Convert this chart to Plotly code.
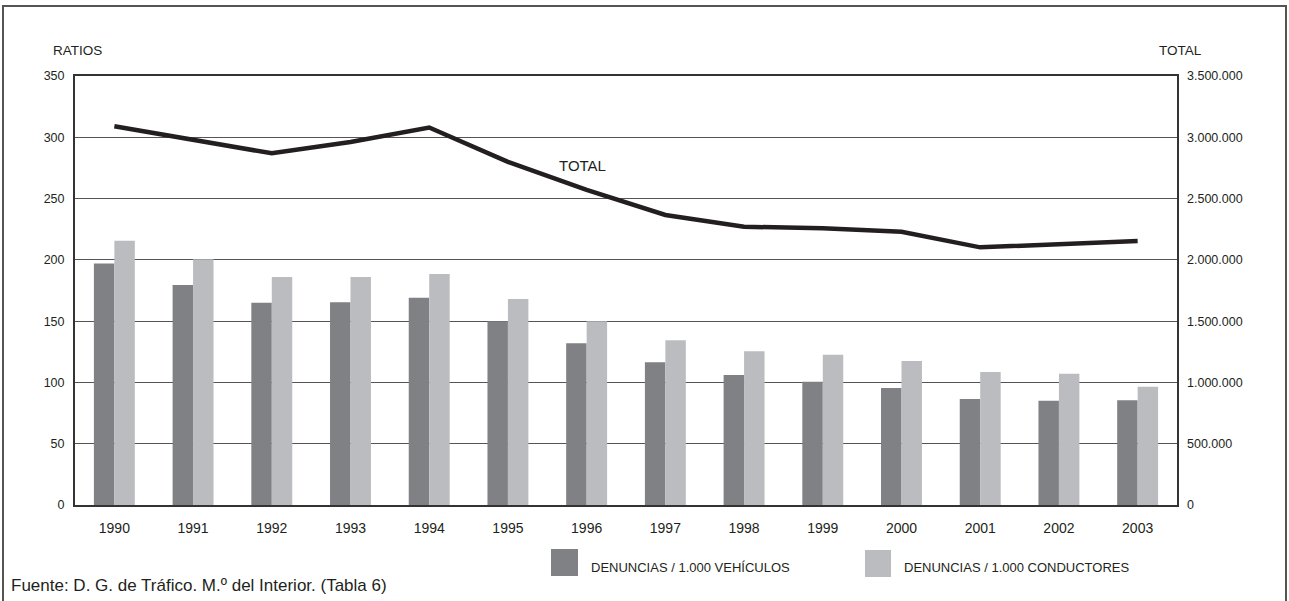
import plotly.graph_objects as go

years = [1990, 1991, 1992, 1993, 1994, 1995, 1996, 1997, 1998, 1999, 2000, 2001, 2002, 2003]
denuncias_vehiculos = [197, 179.5, 165, 165.5, 169, 150, 132, 116.5, 106, 100.5, 95.5, 86.5, 85, 85.5]
denuncias_conductores = [215.5, 200.5, 186, 186, 188.5, 168, 150, 134.5, 125.5, 122.5, 117.5, 108.5, 107, 96.5]
total = [3090000, 2983000, 2869000, 2962000, 3080000, 2800000, 2570000, 2366000, 2270000, 2257000, 2230000, 2102000, 2127000, 2154000]

left_ticks = [0, 50, 100, 150, 200, 250, 300, 350]
right_ticks = [0, 500000, 1000000, 1500000, 2000000, 2500000, 3000000, 3500000]
right_labels = ["0", "500.000", "1.000.000", "1.500.000", "2.000.000", "2.500.000", "3.000.000", "3.500.000"]

legend_labels = ["DENUNCIAS / 1.000 VEHÍCULOS", "DENUNCIAS / 1.000 CONDUCTORES"]
dark = "#808185"
light = "#BBBCC0"
ink = "#231F20"
font = "Liberation Sans, Arial, sans-serif"

fig = go.Figure()
fig.add_trace(go.Bar(x=years, y=denuncias_vehiculos, name=legend_labels[0],
                     marker=dict(color=dark, line=dict(width=0)), showlegend=False))
fig.add_trace(go.Bar(x=years, y=denuncias_conductores, name=legend_labels[1],
                     marker=dict(color=light, line=dict(width=0)), showlegend=False))
fig.add_trace(go.Scatter(x=years, y=total, yaxis="y2", mode="lines", name="TOTAL",
                         line=dict(color=ink, width=4.5), showlegend=False))

W, H = 1289, 601
L, R, T, B = 75, 112, 76, 96
pw, ph = W - L - R, H - T - B

def px(x):
    return (x - L) / pw

def py(y):
    return (H - B - y) / ph

shapes = [
    # outer frame
    dict(type="rect", xref="paper", yref="paper", x0=px(3), x1=px(1286), y0=py(603), y1=py(6),
         line=dict(color="#555", width=2)),
    # legend swatches
    dict(type="rect", xref="paper", yref="paper", x0=px(551), x1=px(578), y0=py(576), y1=py(549),
         fillcolor=dark, line=dict(width=0)),
    dict(type="rect", xref="paper", yref="paper", x0=px(865), x1=px(891), y0=py(577), y1=py(550),
         fillcolor=light, line=dict(width=0)),
]

annotations = [
    dict(text="RATIOS", xref="paper", yref="paper", x=px(77), y=py(50), showarrow=False,
         font=dict(size=13.5, color=ink, family=font), xanchor="center", yanchor="middle"),
    dict(text="TOTAL", xref="paper", yref="paper", x=px(1180), y=py(50), showarrow=False,
         font=dict(size=13.5, color=ink, family=font), xanchor="center", yanchor="middle"),
    dict(text="TOTAL", x=1995.95, y=2766000, xref="x", yref="y2", showarrow=False,
         font=dict(size=15, color=ink, family=font), xanchor="center", yanchor="middle"),
    dict(text=legend_labels[0], xref="paper", yref="paper", x=px(589), y=py(567), showarrow=False,
         font=dict(size=13, color=ink, family=font), xanchor="left", yanchor="middle"),
    dict(text=legend_labels[1], xref="paper", yref="paper", x=px(902), y=py(567), showarrow=False,
         font=dict(size=13, color=ink, family=font), xanchor="left", yanchor="middle"),
    dict(text="Fuente: D. G. de Tráfico. M.º del Interior. (Tabla 6)", xref="paper", yref="paper",
         x=px(9), y=py(585), showarrow=False,
         font=dict(size=17, color=ink, family=font), xanchor="left", yanchor="middle"),
]

fig.update_layout(
    width=W, height=H,
    margin=dict(l=L, r=R, t=T, b=B, pad=0),
    paper_bgcolor="white", plot_bgcolor="white",
    barmode="group", bargap=0.48, bargroupgap=0,
    font=dict(family=font, size=12.5, color=ink),
    xaxis=dict(range=[1989.5, 2003.5], tickmode="array", tickvals=years,
               ticktext=[str(y) for y in years], showgrid=False, zeroline=False,
               showline=True, linecolor="#333", linewidth=2, mirror=True,
               ticks="", ticklabelstandoff=9, tickfont=dict(size=14, color=ink)),
    yaxis=dict(range=[0, 350], tickmode="array", tickvals=left_ticks,
               showgrid=True, gridcolor="#555", gridwidth=1, zeroline=False,
               showline=True, linecolor="#333", linewidth=2, mirror=True,
               ticks="", ticklabelstandoff=6, tickfont=dict(size=12.5, color=ink)),
    yaxis2=dict(range=[0, 3500000], overlaying="y", side="right", tickmode="array",
                tickvals=right_ticks, ticktext=right_labels, showgrid=False, zeroline=False,
                showline=False, ticks="", ticklabelstandoff=9, tickfont=dict(size=12.5, color=ink)),
    shapes=shapes,
    annotations=annotations,
)

fig.write_html("out.html", config={"displayModeBar": False},
               post_script="document.body.style.margin='0';document.body.style.overflow='hidden';")
